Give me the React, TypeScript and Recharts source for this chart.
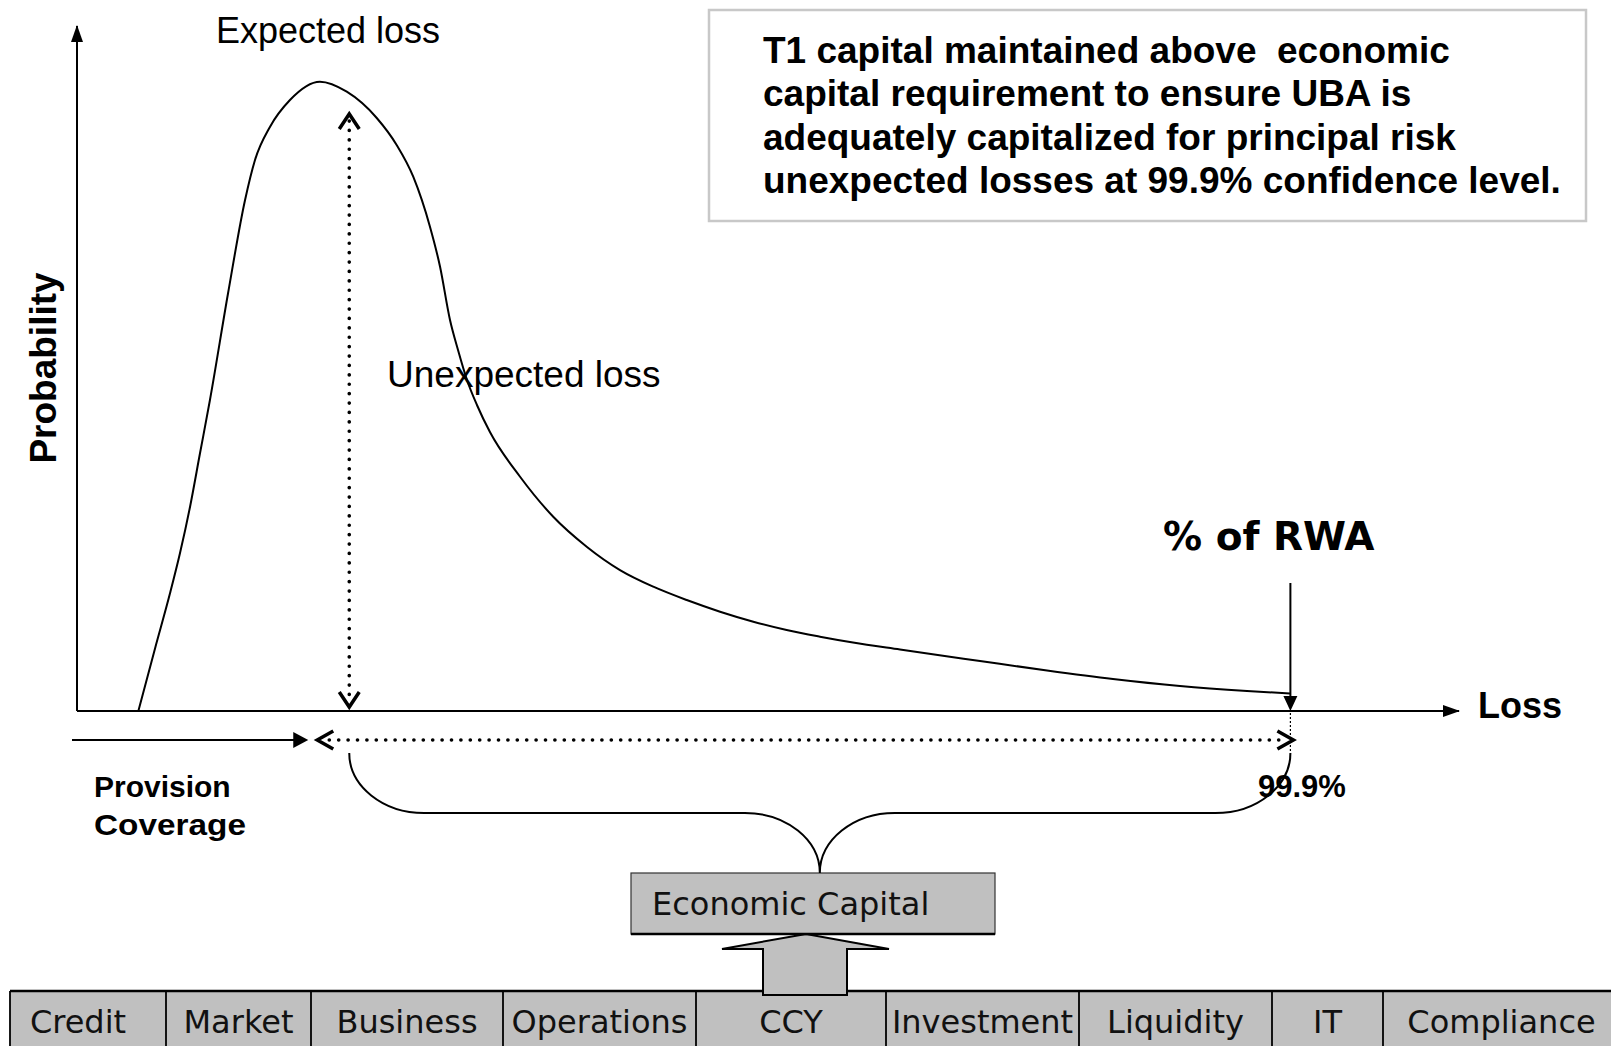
import React from 'react'
import { ComposedChart, Line, XAxis, YAxis, ReferenceLine, Customized } from 'recharts'

const W = 1611
const H = 1046
// pixel edges of the plot area = where the two axes are drawn
const PLOT = { left: 77, top: 26, right: 1459, bottom: 711 }

// loss distribution (loss and probability, both on a 0..100 scale)
const LOSS = [
  4.44, 5.68, 6.73, 7.45, 8.18, 8.9, 9.62, 10.93, 12.16, 12.88,
  13.97, 15.41, 17.58, 19.52, 21.69, 23.13, 24.33, 25.54, 26.27, 26.99,
  27.57, 28.22, 28.94, 29.88, 32.06, 34.46, 36.88, 39.29, 41.7, 44.12,
  46.53, 48.94, 51.35, 53.76, 56.15, 59.55, 65.34, 70.19, 74.96, 79.81,
  84.66, 87.77,
]
const PROB = [
  0, 9.39, 17.18, 23.02, 29.82, 37.62, 45.4, 60.98, 74.6, 80.44,
  85.3, 89.2, 91.87, 90.41, 86.57, 82.63, 78.0, 70.7, 64.86, 57.08,
  52.7, 48.32, 44.67, 40.73, 34.2, 28.36, 23.99, 20.58, 18.15, 16.2,
  14.5, 13.04, 11.82, 10.85, 10.0, 8.98, 7.3, 5.91, 4.67, 3.65,
  2.92, 2.55,
]
const EXPECTED_LOSS = 19.7
const UL_ARROW_TOP = 87.3
const VAR_999 = 87.8

const NOTE_LINES = [
  'T1 capital maintained above  economic',
  'capital requirement to ensure UBA is',
  'adequately capitalized for principal risk',
  'unexpected losses at 99.9% confidence level.',
]
const RISK_TYPES = ['Credit', 'Market', 'Business', 'Operations', 'CCY', 'Investment', 'Liquidity', 'IT', 'Compliance']
const RISK_EDGES = [10, 166, 311, 503, 696, 886, 1079, 1272, 1383, 1620]

const CURVE = LOSS.map((x, i) => ({ loss: x, prob: PROB[i] }))

const ARIAL = '"Liberation Sans", Arial, sans-serif'
const GOTHIC = '"DejaVu Sans", sans-serif'
const GREY = '#c0c0c0'

const dotted = {
  stroke: '#000',
  strokeWidth: 3.6,
  strokeLinecap: 'round' as const,
  strokeDasharray: '0.1 9.3',
  fill: 'none',
}
const chevron = { fill: 'none', stroke: '#000', strokeWidth: 3.5 }

// vertical dotted double arrow at the expected loss
function UnexpectedArrow(props: any) {
  const { x1, y1, y2 } = props
  const top = Math.min(y1, y2)
  const bottom = Math.max(y1, y2) - 3
  return (
    <g>
      <line x1={x1} y1={top + 8} x2={x1} y2={bottom - 6} {...dotted} />
      <polyline points={`${x1 - 10},${top + 16} ${x1},${top + 1} ${x1 + 10},${top + 16}`} {...chevron} />
      <polyline points={`${x1 - 10},${bottom - 16} ${x1},${bottom - 1} ${x1 + 10},${bottom - 16}`} {...chevron} />
    </g>
  )
}

// provision arrow, dotted span EL -> 99.9% and the brace under it
function CapitalSpan(props: any) {
  const { x1, x2, y1 } = props
  const a = Math.min(x1, x2)
  const b = Math.max(x1, x2)
  const ya = y1 + 29
  const top = y1 + 42
  const mid = y1 + 102
  const tip = y1 + 162
  const cx = (a + b) / 2
  const rx = 75
  const ry = 60
  const brace =
    `M ${a} ${top} A ${rx} ${ry} 0 0 0 ${a + rx} ${mid} L ${cx - rx} ${mid} ` +
    `A ${rx} ${ry} 0 0 1 ${cx} ${tip} A ${rx} ${ry} 0 0 1 ${cx + rx} ${mid} ` +
    `L ${b - rx} ${mid} A ${rx} ${ry} 0 0 0 ${b} ${top}`
  const lt = a - 32
  const rt = b + 3
  return (
    <g>
      <line x1={PLOT.left - 5} y1={ya} x2={a - 52} y2={ya} stroke="#000" strokeWidth={2} />
      <polygon points={`${a - 41},${ya} ${a - 56},${ya - 8} ${a - 56},${ya + 8}`} fill="#000" />
      <line x1={lt + 12} y1={ya} x2={rt - 8} y2={ya} {...dotted} />
      <polyline points={`${lt + 16},${ya - 9} ${lt},${ya} ${lt + 16},${ya + 9}`} {...chevron} />
      <polyline points={`${rt - 16},${ya - 9} ${rt},${ya} ${rt - 16},${ya + 9}`} {...chevron} />
      <line x1={b} y1={y1 + 2} x2={b} y2={top} stroke="#000" strokeWidth={1.2} strokeDasharray="2 2" />
      <path d={brace} fill="none" stroke="#000" strokeWidth={2} />
    </g>
  )
}

// arrow pointing down at the 99.9% quantile
function RwaArrow(props: any) {
  const { x1, y1, y2 } = props
  const axisY = Math.max(y1, y2)
  return (
    <g>
      <line x1={x1} y1={axisY - 128} x2={x1} y2={axisY - 12} stroke="#000" strokeWidth={2} />
      <polygon points={`${x1},${axisY} ${x1 - 7},${axisY - 15} ${x1 + 7},${axisY - 15}`} fill="#000" />
    </g>
  )
}

function Overlay() {
  return (
    <g>
      <polygon points={`${PLOT.left},${PLOT.top - 1} ${PLOT.left - 6},${PLOT.top + 16} ${PLOT.left + 6},${PLOT.top + 16}`} fill="#000" />
      <polygon points={`${PLOT.right + 1},${PLOT.bottom} ${PLOT.right - 16},${PLOT.bottom - 6} ${PLOT.right - 16},${PLOT.bottom + 6}`} fill="#000" />

      <text x={1478} y={718} fontFamily={ARIAL} fontWeight="bold" fontSize={36}>Loss</text>
      <text transform="translate(56 368) rotate(-90)" textAnchor="middle" fontFamily={ARIAL} fontWeight="bold" fontSize={37}>
        Probability
      </text>
      <text x={216} y={43} fontFamily={ARIAL} fontSize={36}>Expected loss</text>
      <text x={387} y={387} fontFamily={ARIAL} fontSize={37}>Unexpected loss</text>
      <text x={1163} y={550} fontFamily={GOTHIC} fontWeight="bold" fontSize={39}>% of RWA</text>
      <text x={1258} y={797} fontFamily={ARIAL} fontWeight="bold" fontSize={31}>99.9%</text>
      <text x={94} y={797} fontFamily={ARIAL} fontWeight="bold" fontSize={30}>Provision</text>
      <text x={94} y={835} fontFamily={ARIAL} fontWeight="bold" fontSize={30} textLength={152} lengthAdjust="spacingAndGlyphs">Coverage</text>

      {/* note box */}
      <rect x={709} y={10} width={877} height={211} fill="#fff" stroke="#c8c8c8" strokeWidth={2.5} />
      {NOTE_LINES.map((t, i) => (
        <text key={i} x={763} y={63 + i * 43.4} fontFamily={ARIAL} fontWeight="bold" fontSize={37} style={{ whiteSpace: 'pre' }}>
          {t}
        </text>
      ))}

      {/* risk types row */}
      <rect x={RISK_EDGES[0]} y={991} width={W} height={60} fill={GREY} />
      <line x1={RISK_EDGES[0]} y1={991} x2={W} y2={991} stroke="#000" strokeWidth={2.5} />
      {RISK_EDGES.slice(0, -1).map((x) => (
        <line key={x} x1={x} y1={991} x2={x} y2={H} stroke="#000" strokeWidth={1.8} />
      ))}
      {RISK_TYPES.map((t, i) => (
        <text key={t} x={(RISK_EDGES[i] + RISK_EDGES[i + 1]) / 2 - (i === 0 ? 10 : 0)} y={1033}
          textAnchor="middle" fontFamily={GOTHIC} fontSize={32} fill="#111">
          {t}
        </text>
      ))}

      {/* block arrow into economic capital */}
      <polygon points="806,934 722,949 763,949 763,995 847,995 847,949 889,949" fill={GREY} stroke="#000" strokeWidth={2} strokeLinejoin="miter" />
      <rect x={631} y={873} width={364} height={61} fill={GREY} stroke="#333" strokeWidth={1.2} />
      <line x1={631} y1={934} x2={995} y2={934} stroke="#000" strokeWidth={2.5} />
      <text x={652} y={915} fontFamily={GOTHIC} fontSize={32} fill="#111">Economic Capital</text>
    </g>
  )
}

export default function App() {
  return (
    <div style={{ position: 'absolute', left: 0, top: 0, width: W, height: H, background: '#fff' }}>
      <ComposedChart
        width={W}
        height={H}
        data={CURVE}
        margin={{ top: PLOT.top, left: PLOT.left, right: W - PLOT.right, bottom: H - PLOT.bottom }}
      >
        <XAxis dataKey="loss" type="number" domain={[0, 100]} allowDataOverflow hide />
        <YAxis type="number" domain={[0, 100]} allowDataOverflow hide />
        {/* the two axes, drawn at the origin of the scales */}
        <ReferenceLine x={0} stroke="#000" strokeWidth={2} ifOverflow="visible" />
        <ReferenceLine y={0} stroke="#000" strokeWidth={2} ifOverflow="visible" />
        <Line
          dataKey="prob"
          type="monotone"
          stroke="#000"
          strokeWidth={2}
          dot={false}
          activeDot={false}
          isAnimationActive={false}
        />
        <ReferenceLine
          segment={[{ x: EXPECTED_LOSS, y: 0 }, { x: EXPECTED_LOSS, y: UL_ARROW_TOP }]}
          ifOverflow="visible"
          shape={UnexpectedArrow}
        />
        <ReferenceLine
          segment={[{ x: EXPECTED_LOSS, y: 0 }, { x: VAR_999, y: 0 }]}
          ifOverflow="visible"
          shape={CapitalSpan}
        />
        <ReferenceLine x={VAR_999} ifOverflow="visible" shape={RwaArrow} />
        <Customized component={<Overlay />} />
      </ComposedChart>
    </div>
  )
}
